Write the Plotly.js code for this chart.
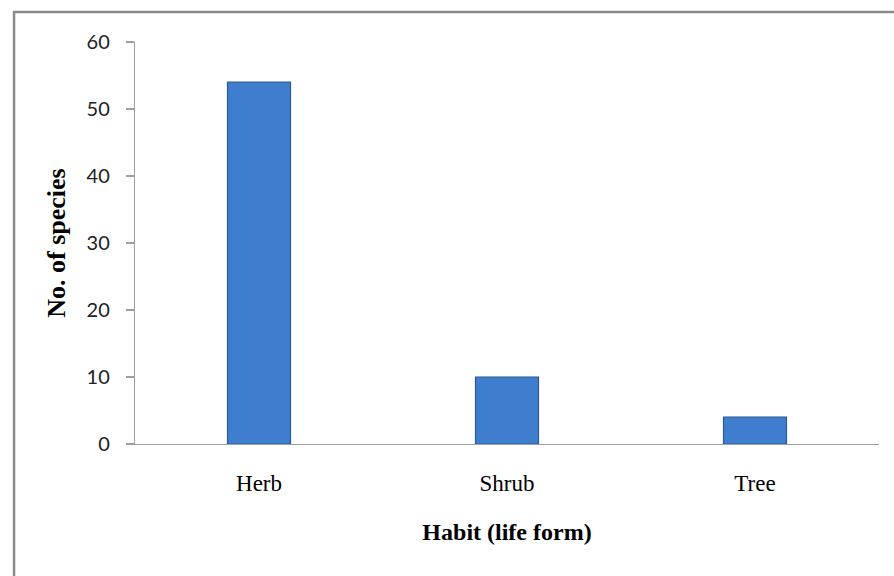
<!DOCTYPE html>
<html>
<head>
<meta charset="utf-8">
<script src="https://cdn.plot.ly/plotly-3.0.1.min.js"></script>
<style>html,body{margin:0;padding:0;background:#fff;}#chart{width:894px;height:576px;}</style>
</head>
<body>
<div id="chart"></div>
<script>
const categories = ["Herb", "Shrub", "Tree"];
const speciesCounts = [54, 10, 4];
const yTickValues = [0, 10, 20, 30, 40, 50, 60];
const yTickLabels = ["0", "10", "20", "30", "40", "50", "60"];

const trace = {
  type: "bar",
  x: categories,
  y: speciesCounts,
  marker: {
    color: "#3F7ECE",
    line: { color: "#2C5A94", width: 1.2 }
  },
  hoverinfo: "x+y"
};

const layout = {
  width: 894,
  height: 576,
  margin: { l: 135, r: 15, t: 42, b: 132 },
  paper_bgcolor: "#ffffff",
  plot_bgcolor: "#ffffff",
  showlegend: false,
  bargap: 0.746,
  xaxis: {
    type: "category",
    range: [-0.5, 2.5],
    showline: true,
    linecolor: "#A0A0A0",
    linewidth: 1.2,
    ticks: "",
    showgrid: false,
    zeroline: false,
    tickfont: { family: "Liberation Serif, Times New Roman, serif", size: 23, color: "#000" },
    ticklabelstandoff: 18,
    title: {
      text: "Habit (life form)",
      font: { family: "Liberation Serif, Times New Roman, serif", size: 24, color: "#000", weight: "bold" },
      standoff: 28
    },
    automargin: false
  },
  yaxis: {
    range: [0, 60],
    tickvals: yTickValues,
    ticktext: yTickLabels,
    showline: true,
    linecolor: "#A0A0A0",
    linewidth: 1.2,
    ticks: "outside",
    ticklen: 8,
    tickcolor: "#A0A0A0",
    tickwidth: 1.2,
    showgrid: false,
    zeroline: false,
    tickfont: { family: "Lato, Carlito, Calibri, sans-serif", size: 20, color: "#222" },
    ticklabelstandoff: 12,
    title: {
      text: "No. of species",
      font: { family: "Liberation Serif, Times New Roman, serif", size: 26, color: "#000", weight: "bold" },
      standoff: 13
    },
    automargin: false
  },
  shapes: [
    {
      type: "rect",
      xref: "paper", yref: "paper",
      x0: -0.1626, x1: 1.1, y0: -0.5, y1: 1.0746,
      line: { color: "#8A8A8A", width: 2.5 },
      fillcolor: "rgba(0,0,0,0)",
      layer: "below"
    }
  ]
};

Plotly.newPlot("chart", [trace], layout, { displayModeBar: false, staticPlot: true });
</script>
</body>
</html>
